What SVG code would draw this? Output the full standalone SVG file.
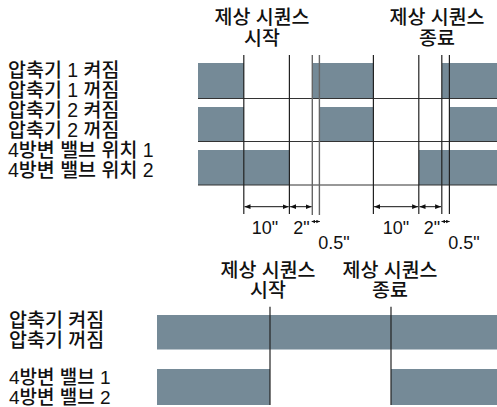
<svg xmlns="http://www.w3.org/2000/svg" width="497" height="407" viewBox="0 0 497 407">
<defs>
<style>
text{font-family:"Liberation Sans","Noto Sans CJK KR",sans-serif;font-size:19.5px;font-weight:500;fill:#111}
.n{font-size:18px;font-weight:400}
.s{font-size:19px}
.c{text-anchor:middle}
.bar{fill:#758a97}
.h{stroke:#333;stroke-width:1.2}
.v{stroke:#222;stroke-width:1.2;fill:none}
.v2{stroke:#666;stroke-width:1.4;fill:none}
.dim{stroke:#111;stroke-width:1;marker-start:url(#a);marker-end:url(#a)}
.dim2{stroke:#111;stroke-width:1;marker-start:url(#s);marker-end:url(#s)}
</style>
<marker id="a" viewBox="0 0 10 10" refX="10" refY="5" markerWidth="6" markerHeight="6" orient="auto-start-reverse" markerUnits="userSpaceOnUse">
<path d="M0,1 L10,5 L0,9 z" fill="#111"/>
</marker>
<marker id="s" viewBox="0 0 10 10" refX="10" refY="5" markerWidth="3.5" markerHeight="4" orient="auto-start-reverse" markerUnits="userSpaceOnUse">
<path d="M0,0 L10,5 L0,10 z" fill="#111"/>
</marker>
</defs>
<rect width="497" height="407" fill="#fff"/>

<g id="labels-top">
<text x="8" y="77">압축기 1 켜짐</text>
<text x="8" y="97">압축기 1 꺼짐</text>
<text x="8" y="117">압축기 2 켜짐</text>
<text x="8" y="137">압축기 2 꺼짐</text>
<text x="8" y="157">4방변 밸브 위치 1</text>
<text x="8" y="177">4방변 밸브 위치 2</text>
</g>

<g id="header-top">
<text class="c" x="262" y="24">제상 시퀀스</text>
<text class="c" x="262" y="45">시작</text>
<text class="c" x="437" y="24">제상 시퀀스</text>
<text class="c" x="437" y="45">종료</text>
</g>

<g id="bars-top">
<rect class="bar" x="198" y="63" width="46" height="35.5"/>
<rect class="bar" x="312" y="63" width="61.5" height="35.5"/>
<rect class="bar" x="442" y="63" width="55" height="35.5"/>
<rect class="bar" x="198" y="107" width="46" height="34.5"/>
<rect class="bar" x="319.5" y="107" width="54" height="34.5"/>
<rect class="bar" x="449.5" y="107" width="47.5" height="34.5"/>
<rect class="bar" x="198" y="150" width="91.5" height="35"/>
<rect class="bar" x="419" y="150" width="78" height="35"/>
</g>

<g id="connectors">
<line class="h" x1="198" y1="98.5" x2="497" y2="98.5"/>
<line class="h" x1="198" y1="141.5" x2="497" y2="141.5"/>
<line class="h" x1="198" y1="185" x2="497" y2="185"/>
<line class="v" x1="243.8" y1="55" x2="243.8" y2="214"/>
<line class="v" x1="289.4" y1="55" x2="289.4" y2="214"/>
<line class="v2" x1="312.3" y1="55" x2="312.3" y2="215"/>
<line class="v2" x1="319.4" y1="55" x2="319.4" y2="215"/>
<line class="v" x1="373.4" y1="55" x2="373.4" y2="214"/>
<line class="v" x1="418.8" y1="55" x2="418.8" y2="214"/>
<line class="v" x1="441.8" y1="55" x2="441.8" y2="214"/>
<line class="v" x1="449.4" y1="55" x2="449.4" y2="214"/>
<line class="dim" x1="244.5" y1="206.7" x2="288.7" y2="206.7"/>
<line class="dim" x1="290.1" y1="206.7" x2="311.6" y2="206.7"/>
<line class="dim" x1="374.1" y1="206.7" x2="418.1" y2="206.7"/>
<line class="dim" x1="419.5" y1="206.7" x2="441.1" y2="206.7"/>
<line class="dim2" x1="311.7" y1="221.5" x2="319.8" y2="221.5"/>
<line class="dim2" x1="441.5" y1="221.5" x2="449.6" y2="221.5"/>
</g>

<g id="dim-labels">
<text class="c n" x="265" y="234">10"</text>
<text class="c n" x="301.5" y="234">2"</text>
<text class="c n" x="334" y="249">0.5"</text>
<text class="c n" x="396" y="234">10"</text>
<text class="c n" x="432" y="234">2"</text>
<text class="c n" x="464" y="249">0.5"</text>
</g>

<g id="header-bottom">
<text class="c" x="268" y="277">제상 시퀀스</text>
<text class="c" x="268" y="297">시작</text>
<text class="c" x="390" y="277">제상 시퀀스</text>
<text class="c" x="390" y="297">종료</text>
</g>

<g id="labels-bottom">
<text x="9" y="327">압축기 켜짐</text>
<text x="9" y="347">압축기 꺼짐</text>
<text class="s" x="9" y="383.5">4방변 밸브 1</text>
<text class="s" x="9" y="403.5">4방변 밸브 2</text>
</g>

<g id="bars-bottom">
<rect class="bar" x="157" y="315" width="340" height="34.5"/>
<rect class="bar" x="157" y="369" width="113" height="36"/>
<rect class="bar" x="391" y="369" width="106" height="36"/>
<line class="v" x1="270" y1="306.7" x2="270" y2="405"/>
<line class="v" x1="391" y1="306.7" x2="391" y2="405"/>
</g>
</svg>
